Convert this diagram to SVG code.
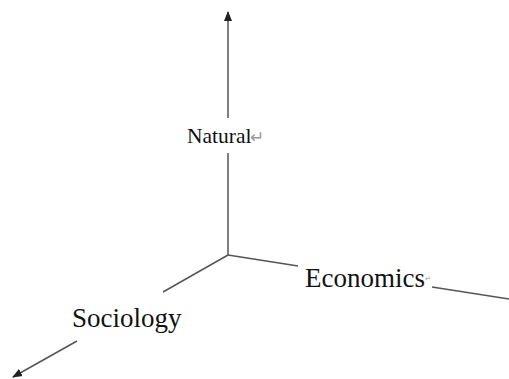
<svg xmlns="http://www.w3.org/2000/svg" width="509" height="379" viewBox="0 0 509 379">
<style>
.ax{stroke:#555;stroke-width:1.5;fill:none}
.lbl{font-family:"Liberation Serif","Times New Roman",serif;fill:#111}
.pm{font-family:"DejaVu Sans",sans-serif;fill:#999}
</style>
<defs>
<marker id="ah" markerWidth="10" markerHeight="10" refX="9" refY="5" orient="auto" markerUnits="userSpaceOnUse">
<path d="M0,1 L10,5 L0,9 Z" fill="#222"/>
</marker>
</defs>
<rect width="509" height="379" fill="#fff"/>
<g id="connectors">
<line class="ax" x1="228" y1="118" x2="228" y2="12" marker-end="url(#ah)"/>
<line class="ax" x1="228" y1="153" x2="228" y2="255"/>
<line class="ax" x1="228" y1="255" x2="298" y2="266"/>
<line class="ax" x1="432" y1="287" x2="509" y2="299"/>
<line class="ax" x1="228" y1="255" x2="163" y2="292"/>
<line class="ax" x1="77" y1="341" x2="13" y2="377" marker-end="url(#ah)"/>
</g>
<g id="natural">
<text class="lbl" x="187" y="143" font-size="21.5">Natural</text>
<text class="pm" x="250" y="143" font-size="17">↵</text>
</g>
<g id="economics">
<text class="lbl" x="305" y="287" font-size="27">Economics</text>
<text class="pm" x="425" y="281" font-size="7">↵</text>
</g>
<g id="sociology">
<text class="lbl" x="72" y="327" font-size="27">Sociology</text>
</g>
</svg>
